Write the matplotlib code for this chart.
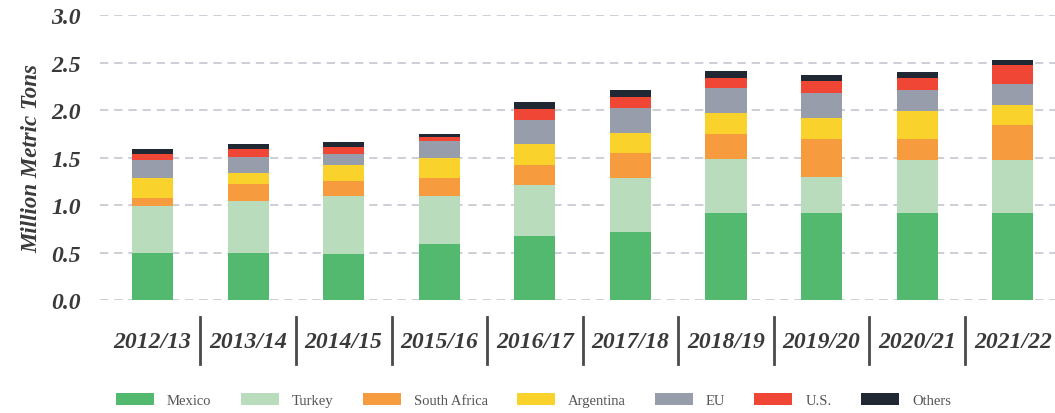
import matplotlib.pyplot as plt
import matplotlib.transforms as mtransforms
import numpy as np

# marketing years
years = ["2012/13", "2013/14", "2014/15", "2015/16", "2016/17",
         "2017/18", "2018/19", "2019/20", "2020/21", "2021/22"]

# million metric tons, by origin
mexico = [0.50, 0.50, 0.48, 0.59, 0.67, 0.72, 0.92, 0.92, 0.92, 0.92]
turkey = [0.49, 0.54, 0.62, 0.51, 0.54, 0.57, 0.57, 0.38, 0.55, 0.55]
south_africa = [0.08, 0.18, 0.15, 0.19, 0.21, 0.26, 0.26, 0.40, 0.23, 0.37]
argentina = [0.21, 0.12, 0.17, 0.21, 0.22, 0.21, 0.22, 0.22, 0.29, 0.21]
eu = [0.19, 0.17, 0.12, 0.17, 0.26, 0.26, 0.26, 0.26, 0.22, 0.23]
us = [0.07, 0.08, 0.07, 0.05, 0.11, 0.12, 0.11, 0.13, 0.13, 0.19]
others = [0.05, 0.05, 0.05, 0.03, 0.07, 0.07, 0.07, 0.06, 0.06, 0.06]

series = [
    ("Mexico", mexico, "#52b96f"),
    ("Turkey", turkey, "#b9dcbc"),
    ("South Africa", south_africa, "#f79b3f"),
    ("Argentina", argentina, "#f9d22c"),
    ("EU", eu, "#989dab"),
    ("U.S.", us, "#ef4636"),
    ("Others", others, "#1f2833"),
]

serif = "Liberation Serif"
dark = "#3a3a3a"

fig = plt.figure(figsize=(10.55, 4.14), dpi=100)
ax = fig.add_axes([0.0948, 0.273, 0.905, 0.688])

x = np.arange(len(years))
bottom = np.zeros(len(years))
for name, vals, color in series:
    ax.bar(x, vals, width=0.43, bottom=bottom, color=color, label=name, zorder=3)
    bottom += np.array(vals)

ax.set_ylim(0, 3.0)
ax.set_xlim(-0.55, 9.44)
ax.set_yticks(np.arange(0, 3.01, 0.5))
ax.set_yticklabels([f"{v:.1f}" for v in np.arange(0, 3.01, 0.5)])
ax.set_xticks(x)
ax.set_xticklabels(years)

ax.grid(axis="y", color="#c6c6d2", linestyle=(0, (5, 3.5)), linewidth=1.2, zorder=0)
for s in ax.spines.values():
    s.set_visible(False)

ax.tick_params(axis="y", length=0, pad=14)
ax.tick_params(axis="x", length=0, pad=22)
for lab in ax.get_yticklabels() + ax.get_xticklabels():
    lab.set_fontfamily(serif)
    lab.set_fontstyle("italic")
    lab.set_fontweight("bold")
    lab.set_fontsize(17)
    lab.set_color(dark)

ax.set_ylabel("Million Metric Tons", fontfamily=serif, fontstyle="italic",
              fontweight="bold", fontsize=16.5, color=dark, labelpad=6)

# separators between year labels
trans = mtransforms.blended_transform_factory(ax.transData, ax.transAxes)
for i in range(len(years) - 1):
    ax.plot([i + 0.5, i + 0.5], [-0.06, -0.225], color="#4a4a4a", lw=2,
            transform=trans, clip_on=False)

fig.legend(loc="center left", bbox_to_anchor=(0.11, 0.031), ncol=7, frameon=False,
           prop={"family": serif, "size": 10.5}, labelcolor="#555555",
           handlelength=2.6, handleheight=0.9, handletextpad=0.9,
           columnspacing=2.0, borderaxespad=0, borderpad=0)

fig.savefig("out.png", dpi=100)
